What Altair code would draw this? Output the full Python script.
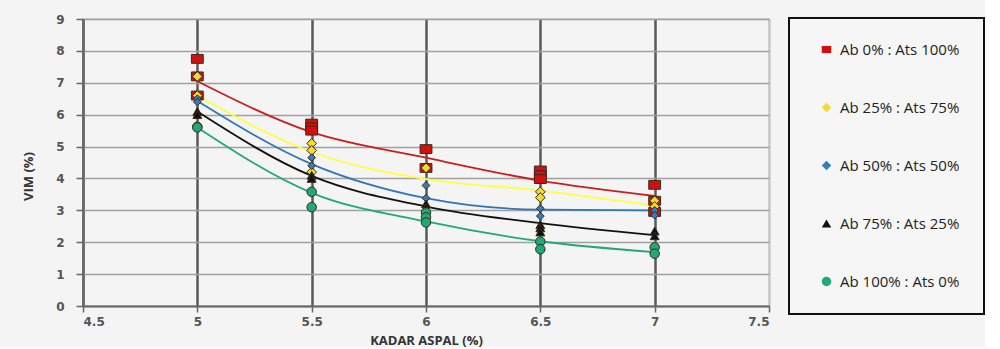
import altair as alt
import pandas as pd

series = ["Ab 0% : Ats 100%", "Ab 25% : Ats 75%", "Ab 50% : Ats 50%",
          "Ab 75% : Ats 25%", "Ab 100% : Ats 0%"]
kadar = [5.0, 5.5, 6.0, 6.5, 7.0]

# replicate VIM measurements at each asphalt content
vim_ab0 = [[7.75, 7.2, 6.6], [5.72, 5.6, 5.5], [4.92, 4.33], [4.25, 4.1, 3.98], [3.8, 3.3, 2.95]]
vim_ab25 = [[7.2, 6.6], [5.1, 4.88, 4.2], [4.33], [3.58, 3.4], [3.3, 3.12]]
vim_ab50 = [[6.5, 6.4], [4.65, 4.4], [3.78, 3.38], [3.06, 2.82], [3.0, 2.85]]
vim_ab75 = [[6.1, 6.0], [4.1, 4.0], [3.2, 3.08], [2.55, 2.45, 2.32], [2.35, 2.2]]
vim_ab100 = [[5.62, 5.6], [3.58, 3.1], [2.93, 2.78, 2.62], [2.02, 1.78], [1.84, 1.64]]

# trend line values at each asphalt content
trend_ab0 = [7.05, 5.45, 4.65, 3.93, 3.45]
trend_ab25 = [6.6, 4.83, 3.98, 3.62, 3.15]
trend_ab50 = [6.43, 4.45, 3.38, 3.02, 3.0]
trend_ab75 = [6.1, 4.08, 3.12, 2.6, 2.22]
trend_ab100 = [5.6, 3.55, 2.65, 2.03, 1.69]

fill_colors = ["#d01010", "#f2dc2a", "#2f7fc0", "#111111", "#20a878"]
line_colors = ["#c82020", "#ffff40", "#2f78b8", "#111111", "#22a878"]
shapes = ["M-1,-0.75H1V0.75H-1Z", "diamond", "diamond", "triangle-up", "circle"]
sizes = [140, 95, 60, 80, 90]

all_vim = [vim_ab0, vim_ab25, vim_ab50, vim_ab75, vim_ab100]
all_trend = [trend_ab0, trend_ab25, trend_ab50, trend_ab75, trend_ab100]

pts = []
for s, sz, reps in zip(series, sizes, all_vim):
    for xv, vals in zip(kadar, reps):
        for v in vals:
            pts.append({"series": s, "x": xv, "y": v, "sz": sz})
pts = pd.DataFrame(pts)

tr = []
for s, vals in zip(series, all_trend):
    for xv, v in zip(kadar, vals):
        tr.append({"series": s, "x": xv, "y": v})
tr = pd.DataFrame(tr)

xenc = alt.X("x:Q", scale=alt.Scale(domain=[4.5, 7.5], nice=False),
             axis=alt.Axis(title="KADAR ASPAL (%)", values=[4.5, 5, 5.5, 6, 6.5, 7, 7.5],
                           format="~g", grid=True,
                           gridColor=alt.condition("datum.value == 7.5", alt.value("#c8c8c8"), alt.value("#5a5a5a")),
                           gridWidth=2.5, tickColor="#666", tickSize=6, tickWidth=1.5,
                           domainColor="#666", domainWidth=2, labelPadding=4,
                           titlePadding=7))
yenc = alt.Y("y:Q", scale=alt.Scale(domain=[0, 9], nice=False),
             axis=alt.Axis(title="VIM (%)", values=list(range(10)), grid=True,
                           gridColor="#a0a0a0", gridWidth=1.5, tickColor="#666",
                           tickSize=7, tickWidth=1.5, domainColor="#666", domainWidth=2,
                           labelPadding=12, titlePadding=20, titleY=157))

lines = alt.Chart(tr).mark_line(strokeWidth=1.8, interpolate="monotone").encode(
    x=xenc, y=yenc,
    detail="series:N",
    color=alt.Color("series:N", scale=alt.Scale(domain=series, range=line_colors), legend=None),
)

NB = "\u00a0" * 5
leg = alt.Legend(title=None, labelExpr="datum.label + '" + NB + "'",
                 symbolStrokeColor="#3a2a1a", symbolStrokeWidth=1)

points = alt.Chart(pts).mark_point(filled=True, stroke="#3a2a1a", strokeWidth=1, opacity=1).encode(
    x=xenc, y=yenc,
    fill=alt.Fill("series:N", scale=alt.Scale(domain=series, range=fill_colors), legend=leg),
    shape=alt.Shape("series:N", scale=alt.Scale(domain=series, range=shapes), legend=leg),
    size=alt.Size("sz:Q", scale=None),
)

chart = alt.layer(lines, points).resolve_scale(color="independent").properties(
    width=686, height=287,
    padding={"left": 22, "top": 13, "right": 0, "bottom": 0},
    background="#f4f4f4",
).configure_view(
    stroke="#c8c8c8", strokeWidth=1.5
).configure_axis(
    labelFont="DejaVu Sans", labelFontWeight="bold", labelFontSize=12, labelColor="#555",
    titleFont="Open Sans", titleFontWeight="bold", titleFontSize=13, titleColor="#333",
).configure_legend(
    strokeColor="#111", strokeWidth=2, fillColor="#f6f6f6", padding=24,
    rowPadding=42, symbolSize=90, symbolOffset=6,
    labelFont="Open Sans", labelFontSize=15, labelColor="#222", labelOffset=6,
    labelLimit=300, orient="none", legendX=706, legendY=-1,
)

chart.save("out.html", embed_options={"renderer": "svg", "actions": False})
